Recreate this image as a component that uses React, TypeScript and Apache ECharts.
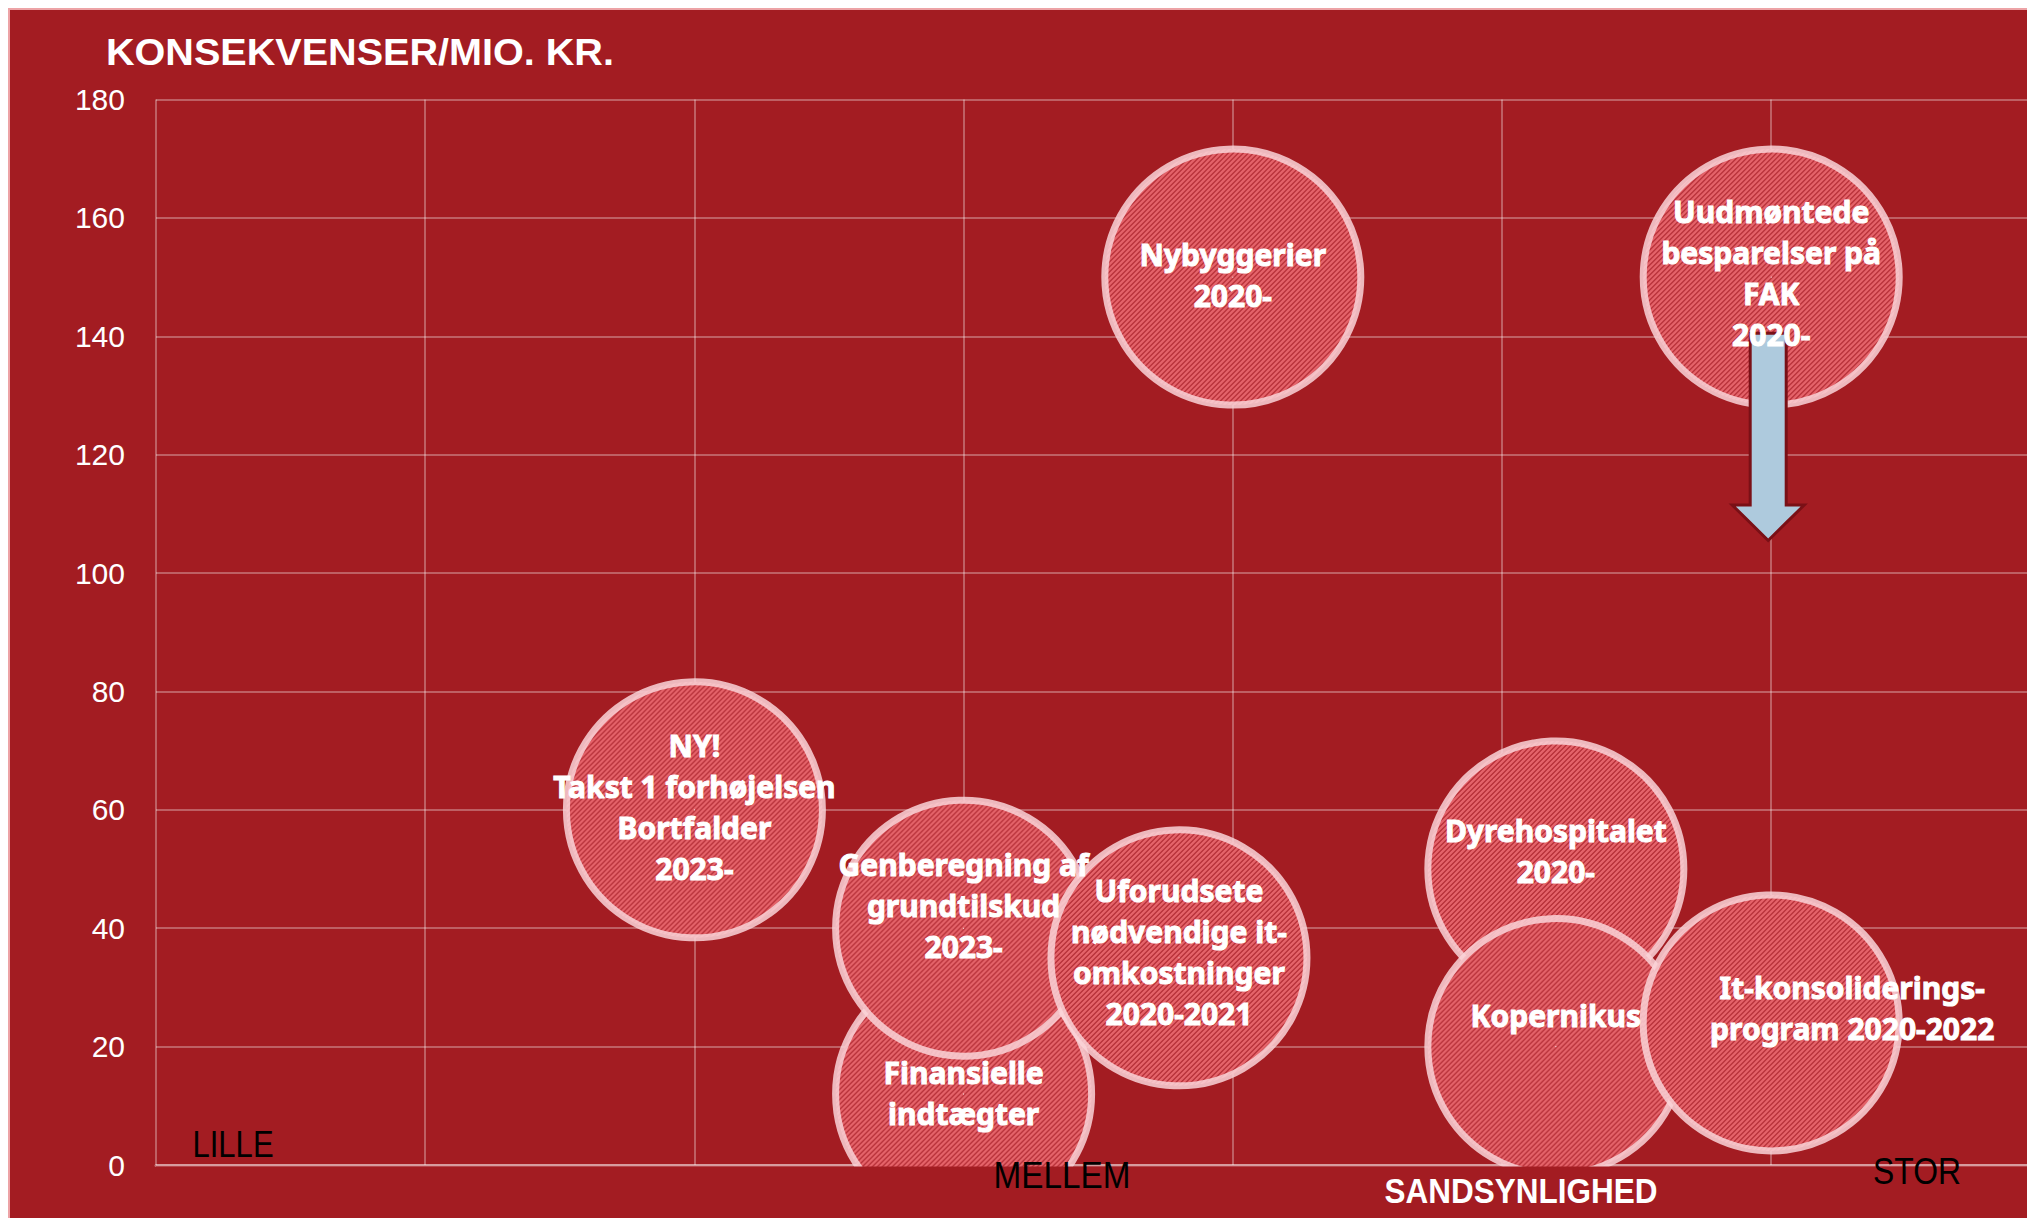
import React, { useEffect, useRef } from 'react';
import * as echarts from 'echarts';

// Bubble data: probability (x, 0..7) vs consequence in mio. kr. (y)
const bubbleLabels = [
  'Nybyggerier\n2020-',
  'Uudmøntede\nbesparelser på\nFAK\n2020-',
  'NY!\nTakst 1 forhøjelsen\nBortfalder\n2023-',
  'Finansielle\nindtægter',
  'Genberegning af\ngrundtilskud\n2023-',
  'Uforudsete\nnødvendige it-\nomkostninger\n2020-2021',
  'Dyrehospitalet\n2020-',
  'Kopernikus',
  'It-konsoliderings-\nprogram 2020-2022',
];
const probability = [4, 6, 2, 3, 3, 3.8, 5.2, 5.2, 6];
const consequence = [150, 150, 60, 12, 40, 35, 50, 20, 24];

// Arrow under "Uudmøntede besparelser": x, shaft top, head start, tip (mio. kr.)
const arrowX = 6;
const arrowFrom = 140.5;
const arrowHeadStart = 111.5;
const arrowTo = 105.5;

const xMin = 0;
const xMax = 7;
const yMin = 0;
const yMax = 180;
const yStep = 20;

const titleText = 'KONSEKVENSER/MIO. KR.';
const xAxisTitle = 'SANDSYNLIGHED';
const scaleLabels = ['LILLE', 'MELLEM', 'STOR'];

// label nudges (pixels, styling only)
const labelOffsets = [
  [0, -2], [0, -4], [0, -3], [0, -1], [0, -23], [0, -6], [0, -18], [0, -31], [81, -15],
];

const BG = '#a31c22';
const BUBBLE_SIZE = 256;

function makeHatch(): string {
  const n = 5;
  const c = document.createElement('canvas');
  c.width = n;
  c.height = n;
  const ctx = c.getContext('2d')!;
  for (let y = 0; y < n; y++) {
    for (let x = 0; x < n; x++) {
      ctx.fillStyle = (x + y) % n < 2 ? '#b9333b' : '#e5636a';
      ctx.fillRect(x, y, 1, 1);
    }
  }
  return c.toDataURL();
}

export default function App() {
  const ref = useRef<HTMLDivElement>(null);

  useEffect(() => {
    document.documentElement.style.overflow = 'hidden';
    document.body.style.overflow = 'hidden';
    const chart = echarts.init(ref.current!, null, { renderer: 'svg' });

    const points = probability.map((x, i) => [x, consequence[i]]);
    const narrow = '"Liberation Sans", Arial, sans-serif';
    const hatch = makeHatch();
    const inv = 2 / BUBBLE_SIZE;

    const scaleText = (x: number, y: number, sx: number, text: string, fill: string, font: string) => ({
      type: 'text',
      x,
      y,
      z: 20,
      scaleX: sx,
      style: { text, fill, font, align: 'center', verticalAlign: 'middle' },
    });

    chart.setOption({
      animation: false,
      backgroundColor: BG,
      grid: { left: 146, top: 89.5, width: 1884.4, height: 1065.5 },
      xAxis: {
        type: 'value',
        min: xMin,
        max: xMax,
        interval: 1,
        axisLabel: { show: false },
        axisTick: { show: false },
        axisLine: { show: true, lineStyle: { color: 'rgba(255,255,255,0.38)', width: 3 } },
        splitLine: { show: true, lineStyle: { color: 'rgba(255,255,255,0.3)', width: 2 } },
      },
      yAxis: {
        type: 'value',
        min: yMin,
        max: yMax,
        interval: yStep,
        axisTick: { show: false },
        axisLine: { show: false },
        axisLabel: { color: '#ffffff', fontSize: 30, fontFamily: narrow, margin: 31 },
        splitLine: { show: true, lineStyle: { color: 'rgba(255,255,255,0.3)', width: 2 } },
      },
      series: [
        {
          type: 'scatter',
          z: 2,
          symbol: 'circle',
          symbolSize: BUBBLE_SIZE,
          data: points,
          itemStyle: {
            color: { image: hatch, repeat: 'repeat', scaleX: inv, scaleY: inv },
            opacity: 1,
            borderColor: 'rgba(250,212,216,0.85)',
            borderWidth: 7,
          },
          label: { show: false },
          emphasis: { disabled: true },
        },
        {
          type: 'custom',
          z: 3,
          data: [[arrowX, arrowFrom, arrowHeadStart, arrowTo]],
          encode: { x: 0, y: 1 },
          renderItem: (params: any, api: any) => {
            const top = api.coord([api.value(0), api.value(1)]);
            const head = api.coord([api.value(0), api.value(2)]);
            const tip = api.coord([api.value(0), api.value(3)]);
            const cx = top[0] - 3;
            const sw = 18;
            const hw = 36;
            return {
              type: 'polygon',
              shape: {
                points: [
                  [cx - sw, top[1]],
                  [cx + sw, top[1]],
                  [cx + sw, head[1]],
                  [cx + hw, head[1]],
                  [cx, tip[1]],
                  [cx - hw, head[1]],
                  [cx - sw, head[1]],
                ],
              },
              style: { fill: '#aecadd', stroke: '#7a1016', lineWidth: 3, lineJoin: 'miter' },
            };
          },
        },
        {
          type: 'scatter',
          z: 4,
          symbol: 'circle',
          symbolSize: 1,
          itemStyle: { color: '#ffffff', opacity: 1 },
          emphasis: { disabled: true },
          data: points.map((p, i) => ({
            value: p,
            name: bubbleLabels[i],
            label: { offset: labelOffsets[i] },
          })),
          label: {
            show: true,
            position: 'inside',
            formatter: (p: any) => p.name,
            color: '#ffffff',
            opacity: 1,
            textBorderColor: '#ffffff',
            textBorderWidth: 1,
            textShadowBlur: 0,
            fontFamily: '"Noto Sans", "Open Sans", sans-serif',
            fontWeight: 'bold',
            fontSize: 30,
            lineHeight: 41,
            align: 'center',
            verticalAlign: 'middle',
          },
        },
      ],
      graphic: [
        {
          type: 'rect',
          z: 10,
          shape: { x: 146, y: 1156.5, width: 1920, height: 80 },
          style: { fill: BG },
        },
        {
          type: 'text',
          x: 96,
          y: 42,
          z: 20,
          scaleX: 1.07,
          style: {
            text: titleText,
            fill: '#ffffff',
            font: 'bold 37px "Liberation Sans", Arial, sans-serif',
            align: 'left',
            verticalAlign: 'middle',
          },
        },
        scaleText(223, 1134, 0.84, scaleLabels[0], '#000000', '37px "Liberation Sans", Arial, sans-serif'),
        scaleText(1052, 1165, 0.9, scaleLabels[1], '#000000', '37px "Liberation Sans", Arial, sans-serif'),
        scaleText(1511, 1180, 0.875, xAxisTitle, '#ffffff', 'bold 36px "Liberation Sans", Arial, sans-serif'),
        scaleText(1907, 1161, 0.86, scaleLabels[2], '#000000', '37px "Liberation Sans", Arial, sans-serif'),
      ],
    });

    return () => chart.dispose();
  }, []);

  return (
    <div
      style={{
        position: 'fixed',
        left: 8,
        top: 8,
        width: 2060,
        height: 1230,
        borderTop: '2px solid #eda3a6',
        borderLeft: '2px solid #eda3a6',
        background: BG,
      }}
    >
      <div ref={ref} style={{ width: 2050, height: 1220 }} />
    </div>
  );
}
